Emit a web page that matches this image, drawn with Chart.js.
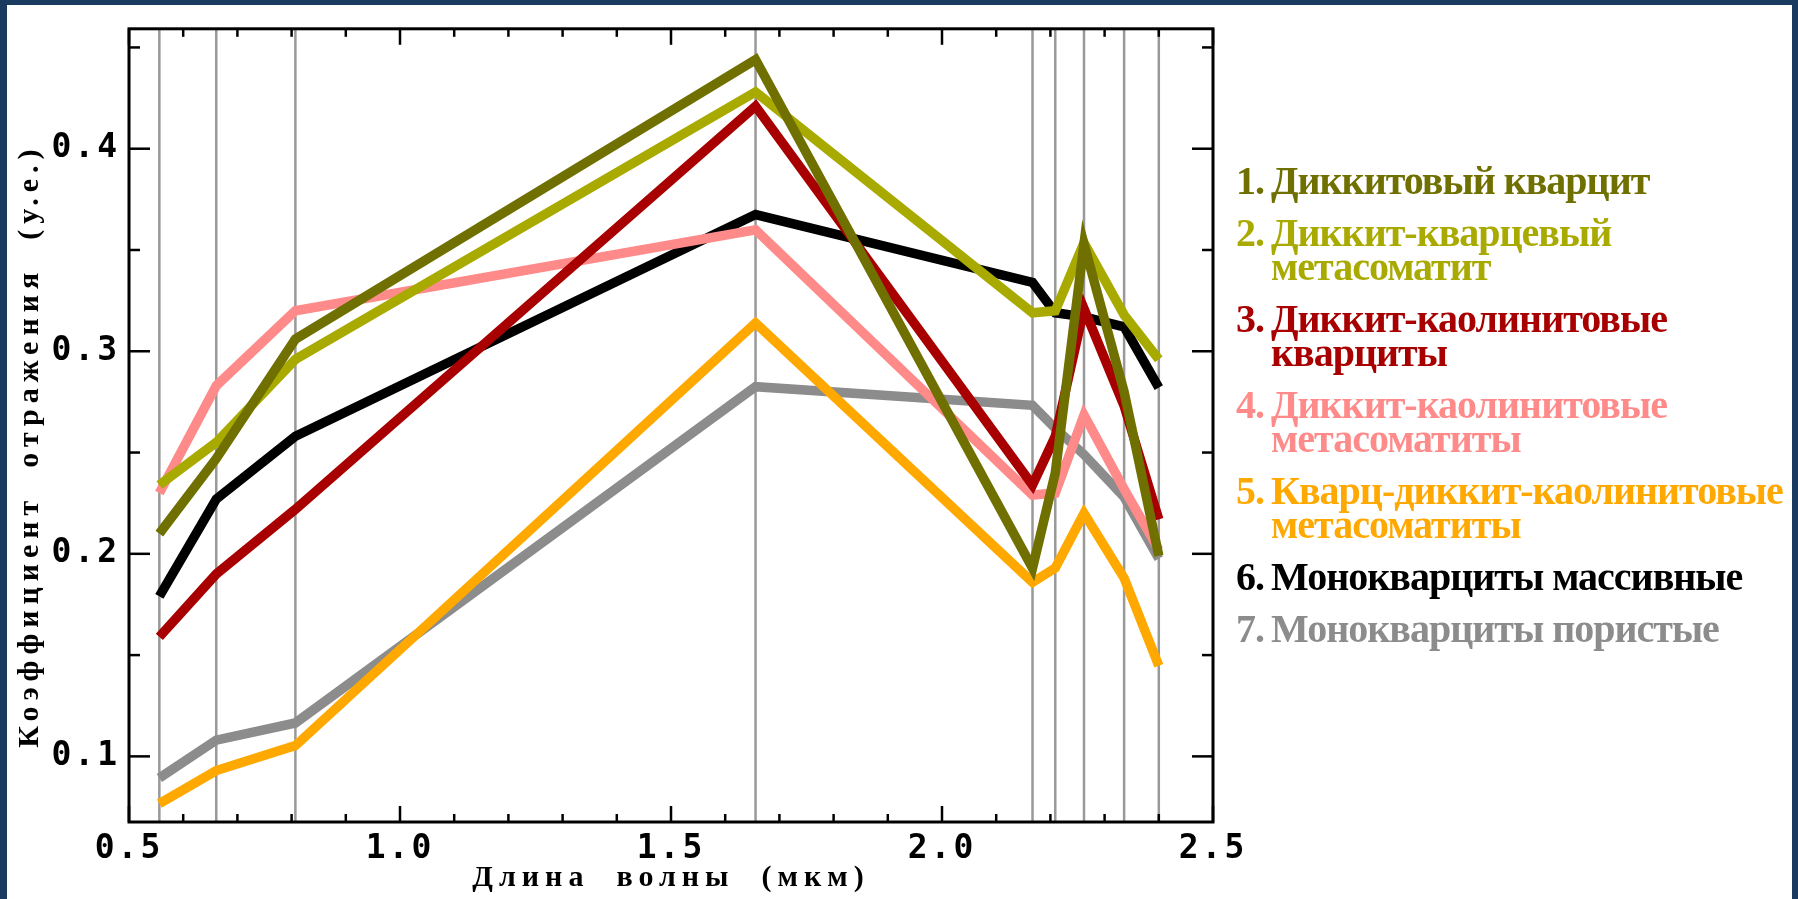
<!DOCTYPE html>
<html lang="ru">
<head>
  <meta charset="UTF-8" />
  <title>Спектры отражения</title>
  <script src="https://cdn.jsdelivr.net/npm/chart.js"></script>
  <style>
    html, body { margin: 0; padding: 0; }
    body { width: 1798px; height: 899px; background: #1b3a60; position: relative; overflow: hidden; }
    #panel { position: absolute; left: 7px; top: 5px; right: 6px; bottom: 0; background: #fff; }
    #wrap { position: absolute; left: 0; top: 0; width: 1798px; height: 899px; }
    #legend { position: absolute; left: 1236px; top: 164px;
      font-family: "Liberation Serif", "Times New Roman", serif; font-weight: bold;
      font-size: 40px; line-height: 34px; letter-spacing: -1px; }
    .item { margin-bottom: 18px; white-space: nowrap; }
    .num { display: inline-block; width: 35px; }
    .cont { padding-left: 35px; }
  </style>
</head>
<body>
  <div id="panel"></div>
  <div id="wrap"><canvas id="chart" width="1798" height="899"></canvas></div>
  <div id="legend"></div>

  <script>
    // длины волн (каналы ASTER), мкм
    const bands = [0.556, 0.661, 0.807, 1.656, 2.167, 2.209, 2.262, 2.336, 2.400];

    const names = [
      ['Диккитовый кварцит'],
      ['Диккит-кварцевый', 'метасоматит'],
      ['Диккит-каолинитовые', 'кварциты'],
      ['Диккит-каолинитовые', 'метасоматиты'],
      ['Кварц-диккит-каолинитовые', 'метасоматиты'],
      ['Монокварциты массивные'],
      ['Монокварциты пористые']
    ];
    const colors = ['#6f7000', '#a9aa00', '#a80000', '#ff8a8a', '#ffa800', '#000000', '#8c8c8c'];

    const s1 = [0.210, 0.247, 0.306, 0.444, 0.193, 0.240, 0.353, 0.280, 0.199];
    const s2 = [0.234, 0.255, 0.296, 0.428, 0.319, 0.320, 0.3535, 0.318, 0.296];
    const s3 = [0.159, 0.190, 0.222, 0.421, 0.234, 0.258, 0.321, 0.273, 0.217];
    const s4 = [0.230, 0.283, 0.320, 0.360, 0.229, 0.230, 0.2685, 0.232, 0.202];
    const s5 = [0.0767, 0.093, 0.1053, 0.314, 0.186, 0.193, 0.220, 0.188, 0.1447];
    const s6 = [0.179, 0.227, 0.258, 0.3675, 0.334, 0.319, 0.317, 0.312, 0.282];
    const s7 = [0.0893, 0.108, 0.1165, 0.2825, 0.2733, 0.262, 0.249, 0.228, 0.1976];
    const series = [s1, s2, s3, s4, s5, s6, s7];

    const xTicks = [0.5, 1.0, 1.5, 2.0, 2.5];
    const yTicks = [0.1, 0.2, 0.3, 0.4];
    const xMinor = [0.6, 0.7, 0.8, 0.9, 1.1, 1.2, 1.3, 1.4, 1.6, 1.7, 1.8, 1.9, 2.1, 2.2, 2.3, 2.4];
    const yMinor = [0.15, 0.25, 0.35, 0.45];

    // рамка, засечки внутрь и вертикальные линии каналов
    const framePlugin = {
      id: 'frame',
      beforeDraw(chart) { chart.ctx.letterSpacing = '6px'; },   // подписи осей
      beforeDatasetsDraw(chart) {
        const { ctx, chartArea: a, scales: { x } } = chart;
        ctx.save();
        ctx.strokeStyle = '#999';
        ctx.lineWidth = 2.5;
        bands.forEach(b => {
          const px = x.getPixelForValue(b);
          ctx.beginPath(); ctx.moveTo(px, a.top); ctx.lineTo(px, a.bottom); ctx.stroke();
        });
        ctx.restore();
      },
      afterDatasetsDraw(chart) {
        const { ctx, chartArea: a, scales: { x, y } } = chart;
        ctx.save();
        ctx.strokeStyle = '#000';
        ctx.lineWidth = 2.5;
        const tick = (x1, y1, x2, y2) => { ctx.beginPath(); ctx.moveTo(x1, y1); ctx.lineTo(x2, y2); ctx.stroke(); };
        xTicks.forEach(v => { const p = x.getPixelForValue(v); tick(p, a.bottom, p, a.bottom - 16); tick(p, a.top, p, a.top + 16); });
        xMinor.forEach(v => { const p = x.getPixelForValue(v); tick(p, a.bottom, p, a.bottom - 8); tick(p, a.top, p, a.top + 8); });
        yTicks.forEach(v => { const p = y.getPixelForValue(v); tick(a.left, p, a.left + 21, p); tick(a.right, p, a.right - 21, p); });
        yMinor.forEach(v => { const p = y.getPixelForValue(v); tick(a.left, p, a.left + 11, p); tick(a.right, p, a.right - 11, p); });
        ctx.lineWidth = 3;
        ctx.strokeRect(a.left, a.top, a.right - a.left, a.bottom - a.top);
        ctx.restore();
        ctx.letterSpacing = '3px';   // цифры на осях рисуются после линий (ticks.z = 1)
      }
    };

    const tickFont = { family: 'DejaVu Sans Mono', weight: 'bold', size: 33 };
    const titleFont = { family: 'Liberation Serif', weight: 'bold', size: 30 };

    new Chart(document.getElementById('chart'), {
      type: 'line',
      data: {
        datasets: series.map((s, i) => ({
          label: names[i].join(' '),
          data: bands.map((b, j) => ({ x: b, y: s[j] })),
          borderColor: colors[i],
          borderWidth: 9.5,
          pointRadius: 0,
          tension: 0,
          fill: false
        }))
      },
      options: {
        responsive: false,
        animation: false,
        layout: { padding: { top: 15, right: 585, left: 0, bottom: 0 } },
        plugins: { legend: { display: false }, tooltip: { enabled: false } },
        scales: {
          x: {
            type: 'linear', min: 0.5, max: 2.5,
            afterBuildTicks: s => { s.ticks = xTicks.map(v => ({ value: v })); },
            afterFit: s => { s.height = 77; },
            grid: { display: false, drawTicks: false },
            border: { display: false },
            ticks: { z: 1, padding: 8, font: tickFont, color: '#000', maxRotation: 0, autoSkip: false,
                     callback: v => v.toFixed(1) },
            title: { display: true, text: 'Длина  волны  (мкм)', font: titleFont, color: '#000',
                     padding: { top: 0, bottom: 3 } }
          },
          y: {
            type: 'linear', min: 0.0676, max: 0.4592,
            afterBuildTicks: s => { s.ticks = yTicks.map(v => ({ value: v })); },
            afterFit: s => { s.width = 129; },
            grid: { display: false, drawTicks: false },
            border: { display: false },
            ticks: { z: 1, padding: 9, font: tickFont, color: '#000', autoSkip: false,
                     callback: v => v.toFixed(1) },
            title: { display: true, text: 'Коэффициент  отражения  (у.е.)   ', font: titleFont, color: '#000',
                     padding: { top: 12, bottom: 0 } }
          }
        }
      },
      plugins: [framePlugin]
    });

    // подписи серий справа
    const legend = document.getElementById('legend');
    names.forEach((lines, i) => {
      const d = document.createElement('div');
      d.className = 'item';
      d.style.color = colors[i];
      d.innerHTML = '<span class="num">' + (i + 1) + '.</span>' + lines[0] +
        lines.slice(1).map(l => '<div class="cont">' + l + '</div>').join('');
      legend.appendChild(d);
    });
  </script>
</body>
</html>
